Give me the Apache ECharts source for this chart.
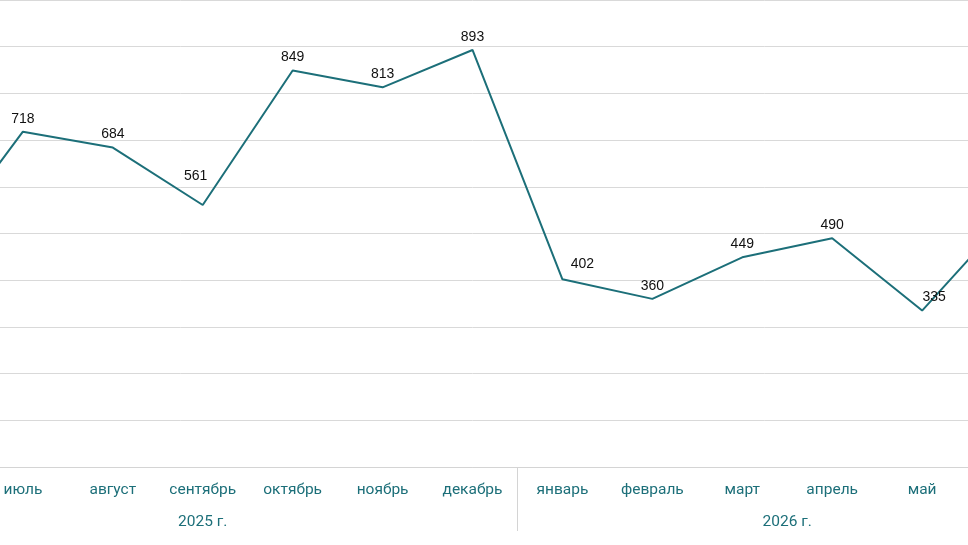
<!DOCTYPE html>
<html>
<head>
<meta charset="utf-8">
<script src="https://cdn.jsdelivr.net/npm/echarts@6/dist/echarts.min.js"></script>
<style>
  html, body { margin: 0; padding: 0; background: #fff; overflow: hidden; }
  #wrap { width: 968px; height: 545px; overflow: hidden; position: relative; }
  /* the original view is cut on both sides: June points sit off-screen */
  #chart { width: 1169px; height: 545px; position: absolute; left: -112px; top: 0; }
</style>
</head>
<body>
<div id="wrap"><div id="chart"></div></div>
<script>
// months (June 2025 .. June 2026), the picture shows July..May fully
var months = ['июнь', 'июль', 'август', 'сентябрь', 'октябрь', 'ноябрь', 'декабрь',
              'январь', 'февраль', 'март', 'апрель', 'май', 'июнь'];
var values = [459, 718, 684, 561, 849, 813, 893, 402, 360, 449, 490, 335, 547];
var years = ['2025 г.', '2026 г.'];
var yearCenters = [3, 9.5];       // middle of each year's months
var yearBounds = [-0.5, 6.5, 12.5];

var teal = '#1c6f79';

// labels that sit a bit off the default "top" spot
var labelShift = { 3: [-7, -16], 7: [20, -2], 11: [12, 0] };

var seriesData = values.map(function (v, i) {
    var item = { value: v };
    if (labelShift[i]) item.label = { offset: labelShift[i] };
    return item;
});

chart = echarts.init(document.getElementById('chart'));

option = {
    animation: false,
    backgroundColor: '#fff',
    grid: {
        left: 0,
        right: 0,
        top: 0,
        bottom: 78,
        containLabel: false
    },
    xAxis: [
        {
            type: 'category',
            data: months,
            boundaryGap: true,
            axisLine: { lineStyle: { color: '#d4d4d4', width: 1 } },
            axisTick: { show: false },
            axisLabel: {
                interval: 0,
                color: teal,
                fontSize: 15.5,
                fontFamily: 'Roboto',
                margin: 15
            }
        },
        {
            type: 'value',
            position: 'bottom',
            min: -0.5,
            max: 12.5,
            splitLine: { show: false },
            axisLine: { show: false },
            axisTick: {
                show: true,
                customValues: yearBounds,
                length: 64,
                lineStyle: { color: '#d4d4d4' }
            },
            axisLabel: {
                customValues: yearCenters,
                color: teal,
                fontSize: 15.5,
                fontFamily: 'Roboto',
                margin: 47,
                formatter: function (v) {
                    return years[yearCenters.indexOf(v)];
                }
            }
        }
    ],
    yAxis: {
        type: 'value',
        min: 0,
        max: 1000,
        interval: 100,
        axisLine: { show: false },
        axisTick: { show: false },
        axisLabel: { show: false },
        splitLine: { lineStyle: { color: '#d9d9d9', width: 1 } }
    },
    series: [{
        type: 'line',
        data: seriesData,
        symbol: 'circle',
        symbolSize: 0,
        showSymbol: true,
        lineStyle: { color: teal, width: 2 },
        itemStyle: { color: teal },
        label: {
            show: true,
            position: 'top',
            distance: 6,
            color: '#111',
            fontSize: 14,
            fontFamily: 'Liberation Sans'
        }
    }]
};

chart.setOption(option);
</script>
</body>
</html>
